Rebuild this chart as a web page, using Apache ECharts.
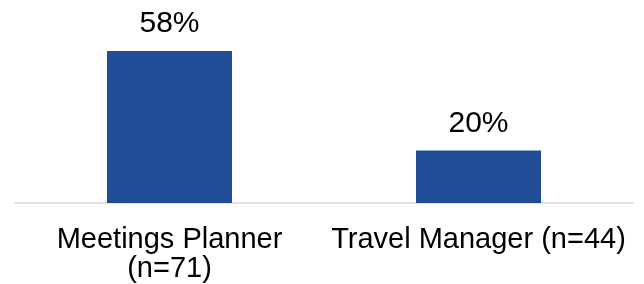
<!DOCTYPE html>
<html>
<head>
<meta charset="utf-8">
<script src="https://cdn.jsdelivr.net/npm/echarts@6/dist/echarts.min.js"></script>
<style>
  html, body { margin: 0; padding: 0; background: #fff; }
  #chart { width: 644px; height: 284px; }
</style>
</head>
<body>
<div id="chart"></div>
<script>
  const categories = ['Meetings Planner\n(n=71)', 'Travel Manager (n=44)'];
  const values = [58, 20];

  const chart = echarts.init(document.getElementById('chart'), null, { renderer: 'canvas' });
  chart.setOption({
    animation: false,
    grid: { left: 15, right: 11, top: 51, bottom: 81 },
    xAxis: {
      type: 'category',
      data: categories,
      axisLine: { lineStyle: { color: '#d9d9d9', width: 1.5 } },
      axisTick: { show: false },
      axisLabel: {
        color: '#000',
        fontFamily: 'Liberation Sans, Arial, sans-serif',
        fontSize: 29,
        lineHeight: 29,
        margin: 22,
        interval: 0,
      },
    },
    yAxis: {
      type: 'value',
      min: 0,
      max: 58,
      show: false,
      splitLine: { show: false },
    },
    series: [{
      type: 'bar',
      data: values,
      barWidth: 125,
      itemStyle: { color: '#214C96' },
      label: {
        show: true,
        position: 'top',
        distance: 12,
        formatter: '{c}%',
        color: '#000',
        fontFamily: 'Liberation Sans, Arial, sans-serif',
        fontSize: 30,
      },
    }],
  });
</script>
</body>
</html>
